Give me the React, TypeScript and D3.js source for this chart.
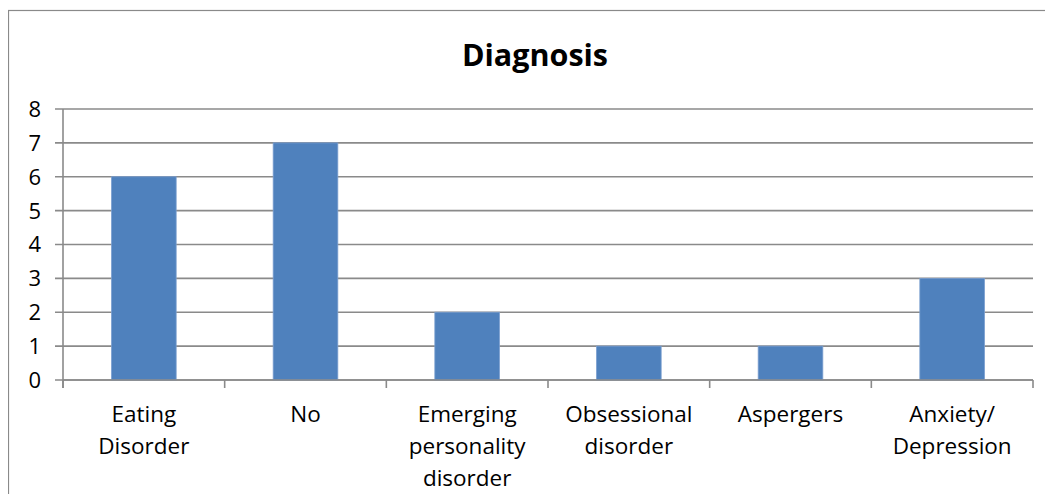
import React from "react";
import * as d3 from "d3";

const categories = ["Eating Disorder", "No", "Emerging personality disorder", "Obsessional disorder", "Aspergers", "Anxiety/ Depression"];
const categoryLines = [["Eating", "Disorder"], ["No"], ["Emerging", "personality", "disorder"], ["Obsessional", "disorder"], ["Aspergers"], ["Anxiety/", "Depression"]];
const values = [6, 7, 2, 1, 1, 3];
const yTicks = [0, 1, 2, 3, 4, 5, 6, 7, 8];
const title = "Diagnosis";

const W = 1053;
const H = 502;
const plot = { left: 63, right: 1033, top: 109, bottom: 380 };
const FONT = "'Open Sans', 'Liberation Sans', sans-serif";
const GRID = "#8a8a8a";
const BAR = "#4f81bd";

export default function App() {
  const x = d3.scaleBand<string>().domain(categories).range([plot.left, plot.right]).paddingInner(0.6).paddingOuter(0.3);
  const y = d3.scaleLinear().domain([0, 8]).range([plot.bottom, plot.top]);
  const step = (plot.right - plot.left) / categories.length;
  const boundaries = d3.range(categories.length + 1).map((i) => plot.left + i * step);

  return (
    <svg width={W - 8} height={H - 16} style={{ display: "block" }}>
      <g transform="translate(-8,-8)">
        <rect x={8.5} y={10.5} width={1200} height={800} fill="#fff" stroke={GRID} strokeWidth={1.2} />
        <text x={535} y={66} textAnchor="middle" fontFamily={FONT} fontWeight="bold" fontSize={30.5} fill="#000">
          {title}
        </text>
        {yTicks.map((t) => (
          <g key={t}>
            <line x1={55} x2={plot.right} y1={y(t)} y2={y(t)} stroke={GRID} strokeWidth={1.6} />
            <text x={41} y={y(t)} dy="0.36em" textAnchor="end" fontFamily={FONT} fontSize={22} fill="#000">
              {t}
            </text>
          </g>
        ))}
        {categories.map((c, i) => (
          <rect key={c} x={x(c)} y={y(values[i])} width={x.bandwidth()} height={y(0) - y(values[i])} fill={BAR} stroke="#7b9fd0" strokeWidth={0.8} />
        ))}
        <line x1={plot.left} x2={plot.left} y1={plot.top} y2={plot.bottom + 8} stroke={GRID} strokeWidth={1.6} />
        <line x1={plot.left} x2={plot.right} y1={plot.bottom} y2={plot.bottom} stroke={GRID} strokeWidth={1.6} />
        {boundaries.map((b, i) => (
          <line key={i} x1={b} x2={b} y1={plot.bottom} y2={plot.bottom + 8} stroke={GRID} strokeWidth={1.6} />
        ))}
        {categories.map((c, i) => (
          <text key={c} x={(x(c) as number) + x.bandwidth() / 2} y={422} textAnchor="middle" fontFamily={FONT} fontSize={22.5} fill="#000">
            {categoryLines[i].map((l, j) => (
              <tspan key={j} x={(x(c) as number) + x.bandwidth() / 2} dy={j === 0 ? 0 : 32}>
                {l}
              </tspan>
            ))}
          </text>
        ))}
      </g>
    </svg>
  );
}
